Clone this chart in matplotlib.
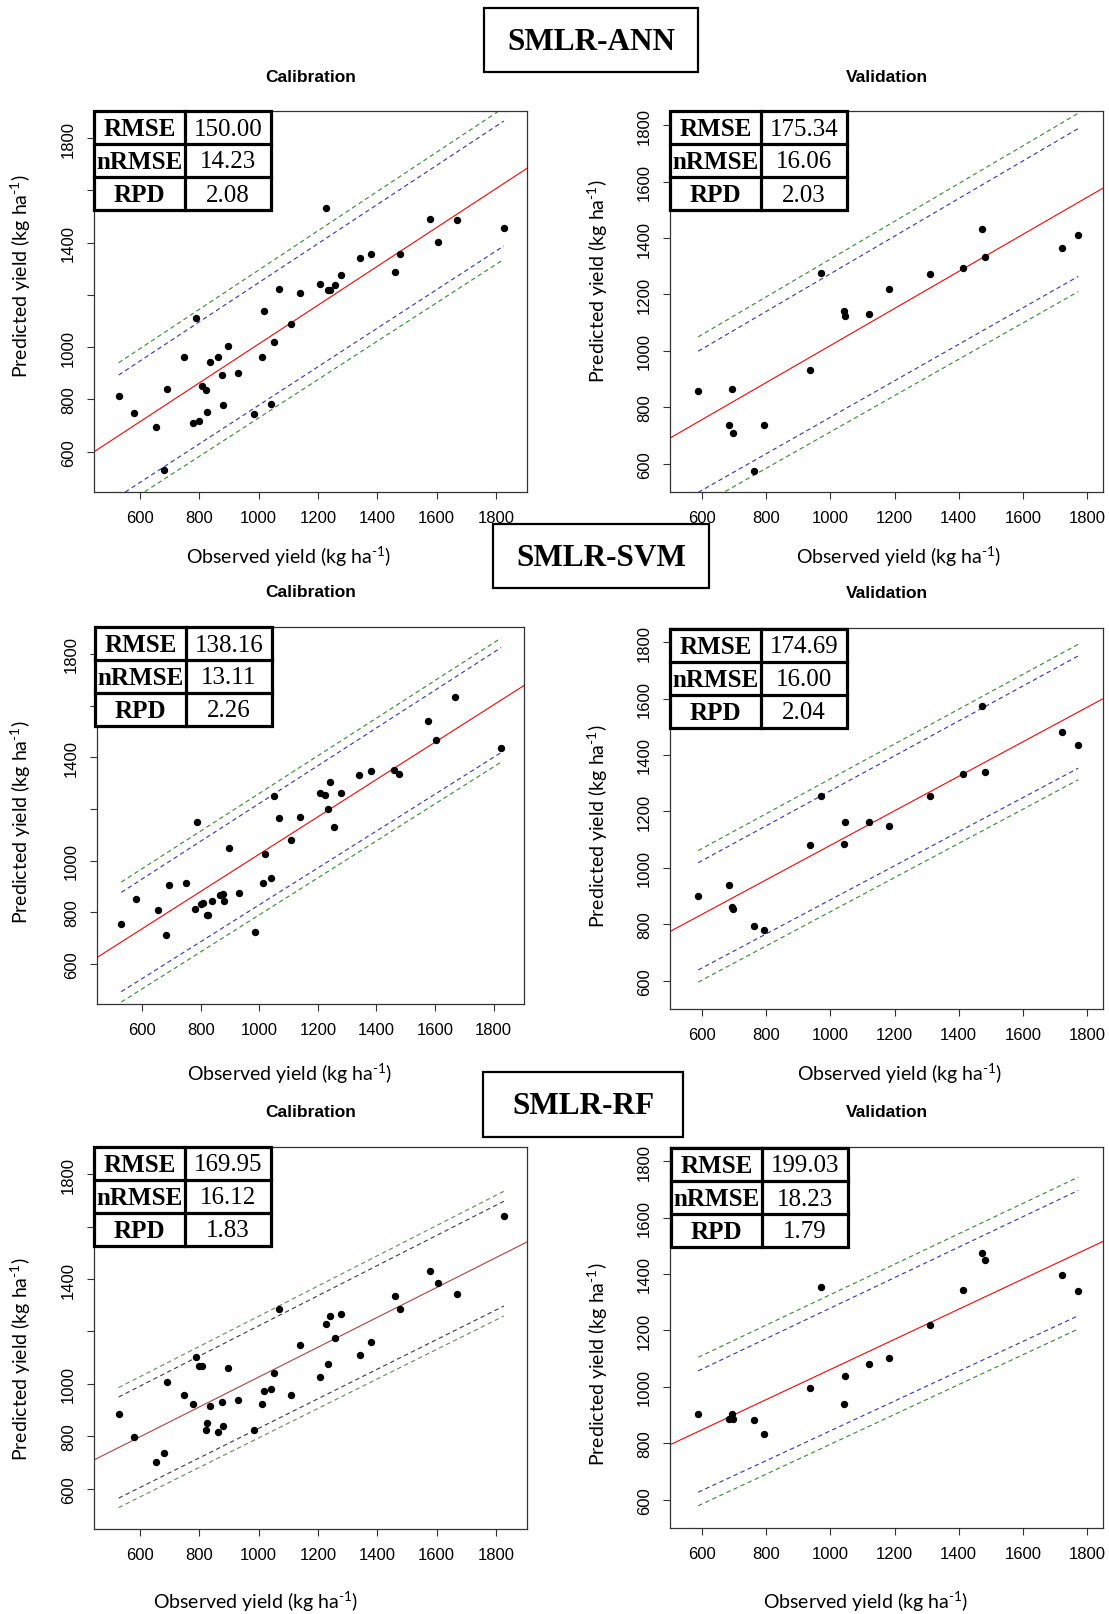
import matplotlib
matplotlib.use('Agg')
import matplotlib.pyplot as plt
from matplotlib.patches import Rectangle
from matplotlib.lines import Line2D
import numpy as np

plt.rcParams['mathtext.fontset'] = 'custom'
plt.rcParams['mathtext.rm'] = 'Lato'
plt.rcParams['mathtext.it'] = 'Lato:italic'

# observed yields (same sets for every model)
obs_cal = [529, 580, 655, 683, 692, 750, 780, 789, 801, 808, 823, 826, 838, 865,
           877, 880, 898, 931, 986, 1013, 1020, 1041, 1051, 1068, 1110, 1140,
           1208, 1226, 1235, 1242, 1256, 1278, 1341, 1380, 1459, 1477, 1577,
           1604, 1669, 1826]
obs_val = [588, 683, 694, 697, 762, 792, 936, 972, 1041, 1046, 1119, 1182,
           1312, 1412, 1473, 1481, 1722, 1773]

# predicted yields
ann_cal = [813, 747, 696, 530, 841, 964, 710, 1112, 716, 851, 836, 754, 943, 961,
           892, 778, 1004, 902, 744, 961, 1139, 782, 1019, 1222, 1090, 1208,
           1242, 1531, 1219, 1219, 1240, 1277, 1343, 1355, 1288, 1357, 1491,
           1404, 1487, 1455]
ann_val = [859, 736, 864, 708, 574, 736, 932, 1277, 1141, 1124, 1130, 1220,
           1271, 1294, 1431, 1332, 1364, 1412]
svm_cal = [757, 854, 809, 714, 908, 915, 813, 1150, 834, 836, 791, 790, 846, 868,
           871, 846, 1050, 877, 723, 915, 1026, 933, 1249, 1166, 1080, 1170,
           1263, 1255, 1201, 1304, 1129, 1263, 1332, 1346, 1352, 1335, 1542,
           1466, 1635, 1435]
svm_val = [902, 938, 861, 855, 793, 780, 1081, 1256, 1084, 1164, 1164, 1147,
           1256, 1333, 1575, 1339, 1483, 1437]
rf_cal = [885, 798, 702, 736, 1008, 956, 922, 1101, 1069, 1067, 822, 849, 915, 815,
          929, 840, 1060, 939, 825, 925, 971, 980, 1042, 1284, 956, 1149,
          1026, 1228, 1077, 1258, 1176, 1266, 1111, 1159, 1337, 1286, 1430,
          1386, 1342, 1641]
rf_val = [904, 885, 905, 887, 881, 833, 996, 1353, 941, 1038, 1080, 1102,
          1219, 1344, 1473, 1449, 1395, 1338]

# regression line (intercept, slope) and 90% / 95% band half-widths at min and max obs
ann_cal_fit, ann_cal_b90, ann_cal_b95 = (268, 0.744), (232, 239), (279, 290)
ann_val_fit, ann_val_b90, ann_val_b95 = (363, 0.656), (250, 262), (301, 316)
svm_cal_fit, svm_cal_b90, svm_cal_b95 = (304, 0.7215), (192, 203), (232, 240)
svm_val_fit, svm_val_b90, svm_val_b95 = (469, 0.611), (190, 199), (233, 240)
rf_cal_fit, rf_cal_b90, rf_cal_b95 = (455, 0.5706), (193, 200), (229, 238)
rf_val_fit, rf_val_b90, rf_val_b95 = (528, 0.5337), (215, 222), (263, 269)

stat_names = ['RMSE', 'nRMSE', 'RPD']
ann_cal_stats = ['150.00', '14.23', '2.08']
ann_val_stats = ['175.34', '16.06', '2.03']
svm_cal_stats = ['138.16', '13.11', '2.26']
svm_val_stats = ['174.69', '16.00', '2.04']
rf_cal_stats = ['169.95', '16.12', '1.83']
rf_val_stats = ['199.03', '18.23', '1.79']

models = ['SMLR-ANN', 'SMLR-SVM', 'SMLR-RF']
ticks = [600, 800, 1000, 1200, 1400, 1600, 1800]

W, H = 1109, 1615
fig = plt.figure(figsize=(W / 100, H / 100), dpi=100)


def fx(x):
    return x / W


def fy(y):
    return 1 - y / H


def panel(box, obs, pred, fit, b90, b95, stats, title, lims, cal,
          xlab_pos, ylab_pos, table_pos, red='red', c90='#3030c8', c95='#2e8b2e'):
    l, t, r, b = box
    ax = fig.add_axes([fx(l), fy(b), (r - l) / W, (b - t) / H])
    ax.set_xlim(lims)
    ax.set_ylim(lims)
    a, k = fit
    xs = np.array(lims, dtype=float)
    ax.plot(xs, a + k * xs, color=red, lw=0.8, zorder=2)
    x0, x1 = min(obs), max(obs)
    for half, col in ((b95, c95), (b90, c90)):
        for s in (1, -1):
            ax.plot([x0, x1], [a + k * x0 + s * half[0], a + k * x1 + s * half[1]],
                    color=col, lw=0.8, ls=(0, (4, 3)), zorder=2)
    ax.plot(obs, pred, 'o', color='black', ms=4.3, zorder=3)

    ax.set_xticks(ticks)
    ax.set_yticks(ticks)
    ax.set_xticklabels([str(v) for v in ticks], fontfamily='Liberation Sans', fontsize=12)
    shown = [600, 800, 1000, 1400, 1800] if cal else ticks
    ax.set_yticklabels([str(v) if v in shown else '' for v in ticks],
                       fontfamily='Liberation Sans', fontsize=12, rotation=90, va='center')
    ax.tick_params(direction='out', length=5, width=0.8, pad=8, color='#333333')
    for sp in ax.spines.values():
        sp.set_color('#333333')
        sp.set_linewidth(0.9)

    ax.text(0.5, 1 + 35 / (b - t), title, transform=ax.transAxes, ha='center',
            va='center', fontfamily='Liberation Sans', fontweight='bold', fontsize=12.5)

    fig.text(fx(xlab_pos[0]), fy(xlab_pos[1]), r'Observed yield (kg ha$^{\text{-}1}$)',
             ha='center', va='center', fontfamily='Lato', fontsize=14)
    fig.text(fx(ylab_pos[0]), fy(ylab_pos[1]), r'Predicted yield (kg ha$^{\text{-}1}$)',
             ha='center', va='center', rotation=90, fontfamily='Lato', fontsize=14)

    # stats table in the top-left corner
    tx, ty = table_pos
    tw, th, split = 177, 99, 91
    rh = th / 3
    fig.add_artist(Rectangle((fx(tx), fy(ty + th)), tw / W, th / H, transform=fig.transFigure,
                             facecolor='white', edgecolor='black', lw=2.3, zorder=5))
    fig.add_artist(Line2D([fx(tx + split)] * 2, [fy(ty), fy(ty + th)], color='black',
                          lw=2.3, zorder=6))
    for i in (1, 2):
        fig.add_artist(Line2D([fx(tx), fx(tx + tw)], [fy(ty + i * rh)] * 2, color='black',
                              lw=2.3, zorder=6))
    for i, (name, val) in enumerate(zip(stat_names, stats)):
        yc = fy(ty + (i + 0.5) * rh + 1)
        fig.text(fx(tx + split / 2), yc, name, ha='center', va='center',
                 fontfamily='Liberation Serif', fontweight='bold', fontsize=18, zorder=7)
        fig.text(fx(tx + split + (tw - split) / 2), yc, val, ha='center', va='center',
                 fontfamily='Liberation Serif', fontsize=18, zorder=7)
    return ax


cal_lims = (446, 1904)
val_lims = (500, 1850)

panel((94, 112, 527, 493), obs_cal, ann_cal, ann_cal_fit, ann_cal_b90, ann_cal_b95,
      ann_cal_stats, 'Calibration', cal_lims, True, (289, 557), (21, 276), (94, 112))
panel((670, 112, 1103, 493), obs_val, ann_val, ann_val_fit, ann_val_b90, ann_val_b95,
      ann_val_stats, 'Validation', val_lims, False, (899, 557), (598, 281), (670, 112))
panel((97, 628, 524, 1005), obs_cal, svm_cal, svm_cal_fit, svm_cal_b90, svm_cal_b95,
      svm_cal_stats, 'Calibration', cal_lims, True, (290, 1074), (21, 822), (95, 628))
panel((670, 629, 1103, 1010), obs_val, svm_val, svm_val_fit, svm_val_b90, svm_val_b95,
      svm_val_stats, 'Validation', val_lims, False, (900, 1074), (598, 826), (670, 630))
panel((94, 1148, 527, 1530), obs_cal, rf_cal, rf_cal_fit, rf_cal_b90, rf_cal_b95,
      rf_cal_stats, 'Calibration', cal_lims, True, (256, 1602), (21, 1359), (94, 1148),
      red='#b0403c', c90='#3a3a3a', c95='#5f8c5f')
panel((670, 1148, 1103, 1529), obs_val, rf_val, rf_val_fit, rf_val_b90, rf_val_b95,
      rf_val_stats, 'Validation', val_lims, False, (866, 1602), (598, 1364), (671, 1149))

# model name boxes
name_boxes = [(484, 9, 698, 73), (493, 525, 709, 589), (483, 1073, 683, 1138)]
for name, (l, t, r, b) in zip(models, name_boxes):
    fig.add_artist(Rectangle((fx(l), fy(b)), (r - l) / W, (b - t) / H,
                             transform=fig.transFigure, facecolor='white',
                             edgecolor='black', lw=1.6, zorder=8))
    fig.text(fx((l + r) / 2), fy((t + b) / 2 + 1), name, ha='center', va='center',
             fontfamily='Liberation Serif', fontweight='bold', fontsize=22.5, zorder=9)

fig.savefig('out.png', dpi=100)
